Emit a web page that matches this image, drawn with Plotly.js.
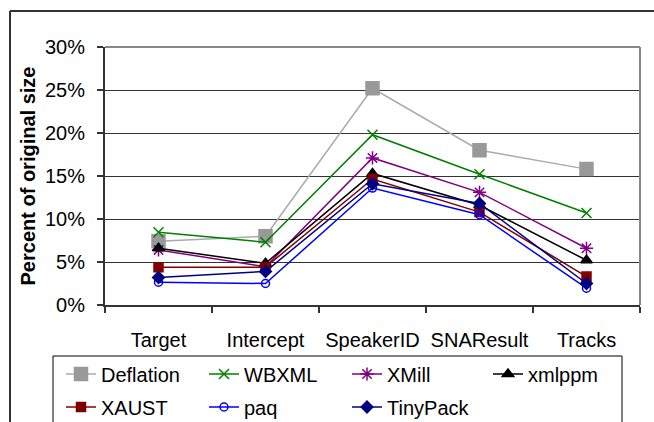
<!DOCTYPE html>
<html><head><meta charset="utf-8">
<script src="https://cdn.plot.ly/plotly-3.0.1.min.js"></script>
<style>html,body{margin:0;padding:0;background:#fff;}#chart{width:654px;height:422px;}</style>
</head><body><div id="chart"></div>
<script>
const categories = ["Target", "Intercept", "SpeakerID", "SNAResult", "Tracks"];
const deflation = [7.4, 8.0, 25.2, 18.0, 15.8];
const wbxml     = [8.45, 7.3, 19.8, 15.2, 10.7];
const xmill     = [6.4, 4.45, 17.1, 13.1, 6.6];
const xmlppm    = [6.6, 4.85, 15.3, 11.6, 5.2];
const xaust     = [4.4, 4.4, 14.65, 10.8, 3.3];
const paq       = [2.65, 2.5, 13.6, 10.5, 1.95];
const tinypack  = [3.2, 3.9, 14.1, 11.8, 2.5];
const yTicks = [0, 5, 10, 15, 20, 25, 30];
const yTickText = ["0%", "5%", "10%", "15%", "20%", "25%", "30%"];

function tr(name, y, color, symbol, size, legend, lineColor) {
  return {
    type: 'scatter', mode: 'lines+markers', name: name, x: categories, y: y, legend: legend,
    line: {color: lineColor || color, width: 1.5},
    marker: {color: color, symbol: symbol, size: size, line: {color: color, width: 1.5}}
  };
}
const data = [
  tr('Deflation', deflation, '#999999', 'square', 13, 'legend', '#aaaaaa'),
  tr('WBXML', wbxml, '#008000', 'x-thin-open', 10, 'legend'),
  tr('XMill', xmill, '#800080', 'asterisk-open', 11, 'legend'),
  tr('xmlppm', xmlppm, '#000000', 'triangle-up', 10, 'legend3'),
  tr('XAUST', xaust, '#800000', 'square', 9, 'legend2'),
  tr('paq', paq, '#0000ff', 'circle-open', 8, 'legend2'),
  tr('TinyPack', tinypack, '#000080', 'diamond', 9, 'legend2')
];
const L = 105, R = 14, T = 47, B = 117;
const W = 654 - L - R, H = 422 - T - B;
const px = v => (v - L) / W;
const py = v => (422 - B - v) / H;
const cx = v => v / 654;
const cy = v => 1 - v / 422;
const legendBase = {
  orientation: 'h', xanchor: 'left', yanchor: 'middle', xref: 'container', yref: 'container',
  borderwidth: 0, bgcolor: 'rgba(0,0,0,0)', font: {size: 20}, entrywidth: 98
};
const layout = {
  width: 654, height: 422,
  margin: {l: L, r: R, t: T, b: B, autoexpand: false},
  paper_bgcolor: '#ffffff', plot_bgcolor: '#ffffff',
  font: {family: 'Liberation Sans, Arial, sans-serif', color: '#000', size: 20},
  showlegend: true,
  xaxis: {
    type: 'category', tickson: 'boundaries', ticks: 'outside', ticklen: 6, tickcolor: '#333', tickwidth: 1.5,
    showline: true, linecolor: '#333', linewidth: 2, showgrid: false, zeroline: false, tickangle: 0,
    tickfont: {size: 20}, ticklabelstandoff: 16, range: [-0.5, 4.5], automargin: false
  },
  yaxis: {
    range: [0, 30], tickvals: yTicks, ticktext: yTickText, ticks: 'outside', ticklen: 6, tickcolor: '#333', tickwidth: 1.5,
    showline: true, linecolor: '#333', linewidth: 2, showgrid: true, gridcolor: '#333', gridwidth: 1,
    zeroline: false, tickfont: {size: 20}, ticklabelstandoff: 8, automargin: false,
    title: {text: 'Percent of original size', font: {size: 20, weight: 'bold'}, standoff: 4}
  },
  legend: Object.assign({}, legendBase, {x: cx(61), y: cy(374)}),
  legend2: Object.assign({}, legendBase, {x: cx(61), y: cy(407)}),
  legend3: Object.assign({}, legendBase, {x: cx(488), y: cy(374)}),
  shapes: [
    {type: 'line', xref: 'paper', yref: 'paper', x0: 1, x1: 1, y0: 0, y1: 1, line: {color: '#888', width: 2}},
    {type: 'line', xref: 'paper', yref: 'paper', x0: 0, x1: 1, y0: 1, y1: 1, line: {color: '#888', width: 2}},
    {type: 'line', xref: 'paper', yref: 'paper', x0: px(10), x1: px(10), y0: py(440), y1: py(11), line: {color: '#333', width: 2}},
    {type: 'line', xref: 'paper', yref: 'paper', x0: px(10), x1: px(670), y0: py(11), y1: py(11), line: {color: '#333', width: 2}},
    {type: 'rect', xref: 'paper', yref: 'paper', x0: px(53), x1: px(622), y0: py(440), y1: py(356), line: {color: '#000', width: 1}, fillcolor: 'rgba(0,0,0,0)'}
  ]
};
Plotly.newPlot('chart', data, layout, {displayModeBar: false, staticPlot: true});
</script></body></html>
